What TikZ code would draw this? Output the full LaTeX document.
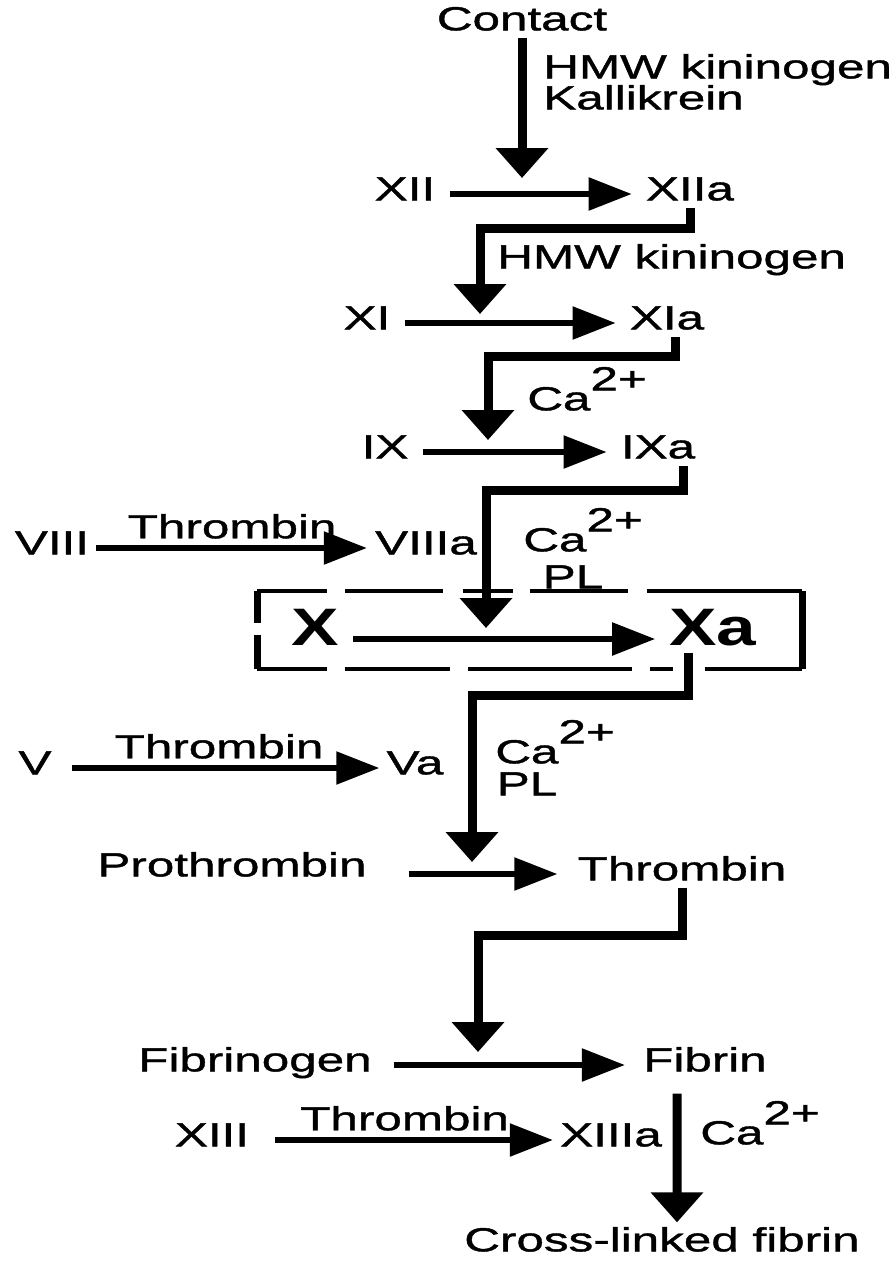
\documentclass[tikz,border=0pt]{standalone}
\usepackage{fontspec}
\setmainfont{Liberation Sans}[FakeStretch=1.48,FakeBold=1.2]
\newfontfamily\bigfont{Liberation Sans}[FakeStretch=1.35]
\usetikzlibrary{arrows.meta,positioning,calc}

\begin{document}
\begin{tikzpicture}[x=0.02cm,y=-0.02cm,
  font=\fontsize{19}{22}\selectfont,
  lbl/.style={inner sep=0pt,text height=0.72em,text depth=0pt},
  big/.style={lbl,font=\bigfont\bfseries\fontsize{30}{34}\selectfont},
  rxn/.style={line width=0.11cm,-{Triangle[length=0.86cm,width=0.64cm]},
              shorten <=0.28cm,shorten >=0.28cm},
  dn/.style={line width=0.18cm,-{Triangle[length=0.6cm,width=1.02cm]},
             shorten <=0.14cm},
  dbox/.style={line width=0.08cm}]
  \useasboundingbox (0,0) rectangle (896,1265);

  \node[lbl] (contact) at (522,24) {Contact};
  \node[lbl,anchor=west] (hmw1) at (543,72) {HMW kininogen};
  \node[lbl,anchor=west] (kall) at (543,103) {Kallikrein};
  \coordinate (k0) at (522,178);
  \draw[dn] (contact.south) -- (k0);

  \node[lbl] (xii) at (405,194) {XII};
  \node[lbl] (xiia) at (690,194) {XIIa};
  \draw[rxn] (xii) -- (xiia);
  \coordinate (k1) at (480,314);
  \draw[dn] (xiia.south) -- ++(0,28) -| (k1);
  \node[lbl,anchor=west] (hmw2) at (497,262) {HMW kininogen};

  \node[lbl] (xi) at (367,323) {XI};
  \node[lbl] (xia) at (667,323) {XIa};
  \draw[rxn] (xi) -- (xia);
  \coordinate (k2) at (488,440);
  \draw[dn] ([xshift=0.16cm]xia.south) -- ++(0,27) -| (k2);
  \node[lbl,anchor=west] (ca1) at (527,404) {Ca\raisebox{0.6em}{2+}};

  \node[lbl] (ix) at (385,452) {IX};
  \node[lbl] (ixa) at (658,452) {IXa};
  \draw[rxn] (ix) -- (ixa);
  \coordinate (k3) at (486,628);
  \draw[dn] ([xshift=0.5cm]ixa.south) -- ++(0,32) -| (k3);

  \node[lbl] (viii) at (52,548) {VIII};
  \node[lbl] (viiia) at (426,548) {VIIIa};
  \draw[rxn,shorten <=0.14cm,shorten >=0.16cm] (viii) -- (viiia)
        node[midway,above=0.14cm,lbl] (thr1) {Thrombin};
  \node[lbl,anchor=west] (ca2) at (523,545) {Ca\raisebox{0.6em}{2+}};
  \node[lbl] (pl1) at (573,582) {PL};

  \draw[dbox,dash pattern=on 1.4cm off 0.36cm on 1.96cm off 0.4cm on 1.0cm
        off 0.34cm on 1.96cm off 0.38cm on 3.1cm] (257,591) -- (802,591);
  \draw[dbox,dash pattern=on 1.4cm off 0.36cm on 2.1cm off 0.36cm on 3.28cm
        off 0.36cm on 0.46cm off 0.64cm on 1.94cm] (257,669) -- (802,669);
  \draw[dbox,line width=0.14cm,dash pattern=on 0.64cm off 0.24cm on 0.7cm]
        (257,591) -- (257,669);
  \draw[dbox,line width=0.14cm] (802,591) -- (802,669);

  \node[big] (x) at (315,639) {X};
  \node[big] (xa) at (713,639) {Xa};
  \draw[rxn] (x) -- (xa);
  \coordinate (k4) at (472,862);
  \draw[dn] ([xshift=-0.5cm]xa.south) -- ++(0,50) -| (k4);

  \node[lbl] (v) at (35,768) {V};
  \node[lbl] (va) at (415,768) {Va};
  \draw[rxn,shorten <=0.4cm,shorten >=0.14cm] (v) -- (va)
        node[midway,above=0.14cm,lbl] (thr2) {Thrombin};
  \node[lbl,anchor=west] (ca3) at (495,757) {Ca\raisebox{0.6em}{2+}};
  \node[lbl] (pl2) at (527,789) {PL};

  \node[lbl] (prothr) at (232,870) {Prothrombin};
  \node[lbl] (thrn) at (682,874) {Thrombin};
  \draw[rxn,shorten <=0.84cm,shorten >=0.4cm] (prothr.east |- thrn) -- (thrn);
  \coordinate (k5) at (478,1052);
  \draw[dn] (thrn.south) -- ++(0,55) -| (k5);

  \node[lbl] (fbg) at (255,1065) {Fibrinogen};
  \node[lbl] (fbn) at (705,1065) {Fibrin};
  \draw[rxn,shorten <=0.44cm,shorten >=0.36cm] (fbg) -- (fbn);

  \node[lbl] (xiii) at (212,1140) {XIII};
  \node[lbl] (xiiia) at (611,1140) {XIIIa};
  \draw[rxn,shorten <=0.52cm,shorten >=0.14cm] (xiii) -- (xiiia)
        node[midway,above=0.14cm,lbl] (thr3) {Thrombin};
  \node[lbl,anchor=west] (ca4) at (700,1138) {Ca\raisebox{0.6em}{2+}};

  \node[lbl] (xlink) at (662,1245) {Cross-linked fibrin};
  \draw[dn,shorten <=0.44cm,shorten >=0.32cm]
        ([xshift=-0.56cm]fbn.south) -- ([xshift=0.3cm]xlink.north);
\end{tikzpicture}
\end{document}
